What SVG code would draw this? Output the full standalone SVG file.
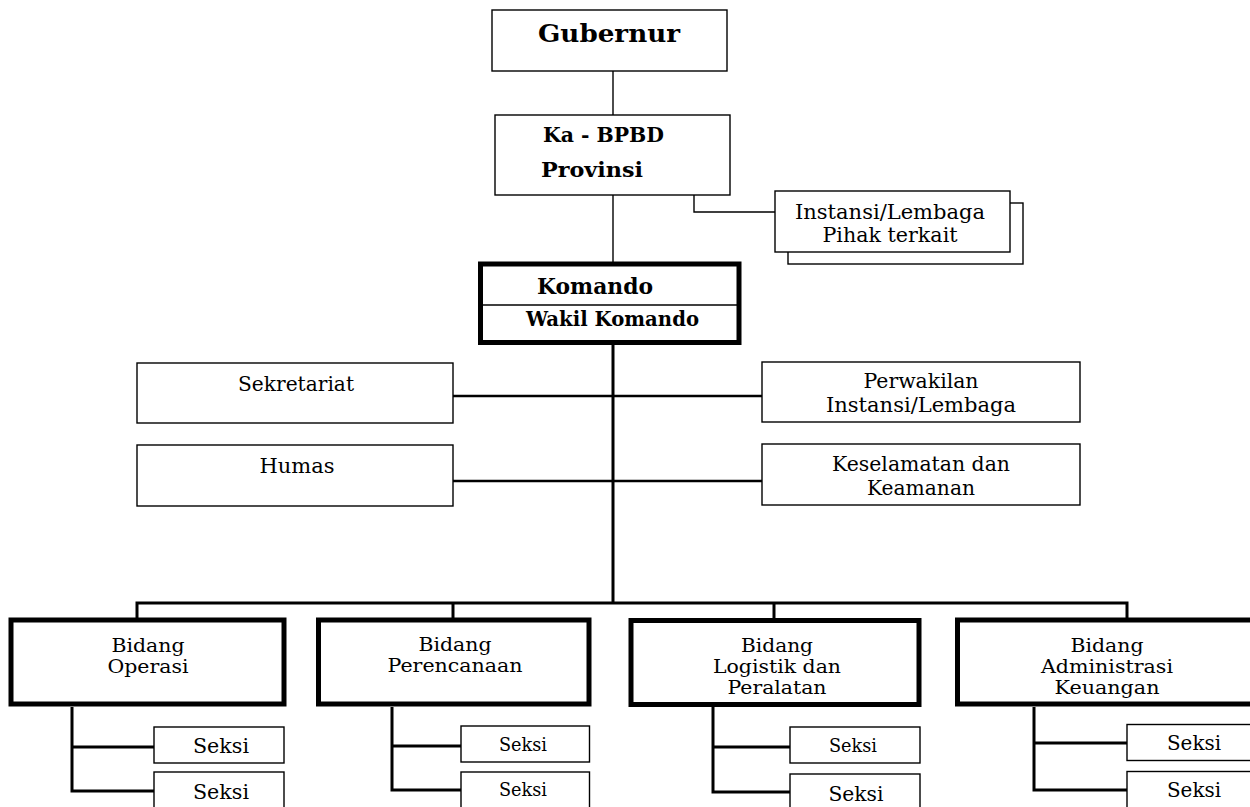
<svg xmlns="http://www.w3.org/2000/svg" width="1250" height="807" viewBox="0 0 1250 807">
<style>
  .box { fill: #ffffff; stroke: #000; stroke-width: 1.4; }
  .thick { fill: #ffffff; stroke: #000; stroke-width: 5; }
  .ln { fill: none; stroke: #000; stroke-width: 1.4; }
  .ln2 { fill: none; stroke: #000; stroke-width: 2.6; }
  .ln3 { fill: none; stroke: #000; stroke-width: 3; }
  text { font-family: "DejaVu Serif", "Liberation Serif", serif; fill: #000; }
  .t { font-size: 20px; text-anchor: middle; }
  .tb { font-size: 18px; text-anchor: middle; }
  .ts { font-size: 18px; text-anchor: middle; }
  .b { font-weight: bold; }
</style>
<rect width="1250" height="807" fill="#ffffff"/>

<g id="connectors">
  <path class="ln" d="M613,71 V115"/>
  <path class="ln" d="M613,195 V262"/>
  <path class="ln" d="M694,195 V212 H775"/>
  <path class="ln3" d="M613,345 V603"/>
  <path class="ln2" d="M453,396 H762"/>
  <path class="ln2" d="M453,481 H762"/>
  <path class="ln3" d="M137,618 V603 H1127 V618"/>
  <path class="ln3" d="M453,603 V618"/>
  <path class="ln3" d="M774,603 V618"/>
  <path class="ln3" d="M72,707 V791 H154 M72,747 H154"/>
  <path class="ln3" d="M392,707 V790 H461 M392,746 H461"/>
  <path class="ln3" d="M713,707 V792 H790 M713,747 H790"/>
  <path class="ln3" d="M1034,707 V790 H1127 M1034,743 H1127"/>
</g>

<g id="gubernur">
  <rect class="box" x="492" y="10" width="235" height="61"/>
  <text class="b" x="538" y="42" font-size="25" textLength="142" lengthAdjust="spacingAndGlyphs">Gubernur</text>
</g>

<g id="ka-bpbd">
  <rect class="box" x="495" y="115" width="235" height="80"/>
  <text class="b" x="543" y="142" font-size="21" textLength="121" lengthAdjust="spacingAndGlyphs">Ka - BPBD</text>
  <text class="b" x="541" y="177" font-size="21" textLength="102" lengthAdjust="spacingAndGlyphs">Provinsi</text>
</g>

<g id="instansi-lembaga">
  <rect class="box" x="788" y="203" width="235" height="61"/>
  <rect class="box" x="775" y="191" width="235" height="61"/>
  <text class="t" x="890" y="218.5" textLength="190" lengthAdjust="spacingAndGlyphs">Instansi/Lembaga</text>
  <text class="t" x="890" y="242" textLength="135" lengthAdjust="spacingAndGlyphs">Pihak terkait</text>
</g>

<g id="komando">
  <rect class="thick" x="480.5" y="264" width="258.5" height="78.5"/>
  <path class="ln" d="M483,305 H737"/>
  <text class="b" x="537" y="294" font-size="22" textLength="116" lengthAdjust="spacingAndGlyphs">Komando</text>
  <text class="b" x="526" y="326" font-size="19.5" textLength="173" lengthAdjust="spacingAndGlyphs">Wakil Komando</text>
</g>

<g id="sekretariat">
  <rect class="box" x="137" y="363" width="316" height="60"/>
  <text class="t" x="296" y="391" textLength="116" lengthAdjust="spacingAndGlyphs">Sekretariat</text>
</g>

<g id="humas">
  <rect class="box" x="137" y="445" width="316" height="61"/>
  <text class="t" x="297" y="473" textLength="75" lengthAdjust="spacingAndGlyphs">Humas</text>
</g>

<g id="perwakilan">
  <rect class="box" x="762" y="362" width="318" height="60"/>
  <text class="t" x="921" y="388" textLength="115" lengthAdjust="spacingAndGlyphs">Perwakilan</text>
  <text class="t" x="921" y="412" textLength="190" lengthAdjust="spacingAndGlyphs">Instansi/Lembaga</text>
</g>

<g id="keselamatan">
  <rect class="box" x="762" y="444" width="318" height="61"/>
  <text class="t" x="921" y="470.5" textLength="178" lengthAdjust="spacingAndGlyphs">Keselamatan dan</text>
  <text class="t" x="921" y="494.5" textLength="108" lengthAdjust="spacingAndGlyphs">Keamanan</text>
</g>

<g id="bidang-operasi">
  <rect class="thick" x="11" y="620" width="273" height="84"/>
  <text class="tb" x="148" y="652" textLength="73" lengthAdjust="spacingAndGlyphs">Bidang</text>
  <text class="tb" x="148" y="673" textLength="81" lengthAdjust="spacingAndGlyphs">Operasi</text>
</g>

<g id="bidang-perencanaan">
  <rect class="thick" x="318.5" y="620" width="270.5" height="84"/>
  <text class="tb" x="455" y="651" textLength="73" lengthAdjust="spacingAndGlyphs">Bidang</text>
  <text class="tb" x="455" y="672" textLength="135" lengthAdjust="spacingAndGlyphs">Perencanaan</text>
</g>

<g id="bidang-logistik">
  <rect class="thick" x="631" y="620.5" width="288" height="84"/>
  <text class="tb" x="777" y="652" textLength="72" lengthAdjust="spacingAndGlyphs">Bidang</text>
  <text class="tb" x="777" y="673" textLength="128" lengthAdjust="spacingAndGlyphs">Logistik dan</text>
  <text class="tb" x="777" y="694" textLength="99" lengthAdjust="spacingAndGlyphs">Peralatan</text>
</g>

<g id="bidang-administrasi">
  <rect class="thick" x="957.5" y="620" width="310" height="84"/>
  <text class="tb" x="1107" y="652" textLength="73" lengthAdjust="spacingAndGlyphs">Bidang</text>
  <text class="tb" x="1107" y="673" textLength="132" lengthAdjust="spacingAndGlyphs">Administrasi</text>
  <text class="tb" x="1107" y="694" textLength="105" lengthAdjust="spacingAndGlyphs">Keuangan</text>
</g>

<g id="seksi-operasi-1">
  <rect class="box" x="154" y="727" width="130" height="36"/>
  <text class="t" x="221" y="753" textLength="56" lengthAdjust="spacingAndGlyphs">Seksi</text>
</g>
<g id="seksi-operasi-2">
  <rect class="box" x="154" y="772" width="130" height="40"/>
  <text class="t" x="221" y="799" textLength="56" lengthAdjust="spacingAndGlyphs">Seksi</text>
</g>

<g id="seksi-perencanaan-1">
  <rect class="box" x="461" y="726" width="128.5" height="36"/>
  <text class="ts" x="523" y="751" textLength="48" lengthAdjust="spacingAndGlyphs">Seksi</text>
</g>
<g id="seksi-perencanaan-2">
  <rect class="box" x="461" y="772" width="128.5" height="40"/>
  <text class="ts" x="523" y="796" textLength="48" lengthAdjust="spacingAndGlyphs">Seksi</text>
</g>

<g id="seksi-logistik-1">
  <rect class="box" x="790" y="727" width="130" height="36"/>
  <text class="ts" x="853" y="752" textLength="48" lengthAdjust="spacingAndGlyphs">Seksi</text>
</g>
<g id="seksi-logistik-2">
  <rect class="box" x="790" y="774" width="130" height="40"/>
  <text class="t" x="856" y="801" font-size="21" textLength="55" lengthAdjust="spacingAndGlyphs">Seksi</text>
</g>

<g id="seksi-administrasi-1">
  <rect class="box" x="1127" y="724.5" width="130" height="36"/>
  <text class="t" x="1194" y="750" textLength="54" lengthAdjust="spacingAndGlyphs">Seksi</text>
</g>
<g id="seksi-administrasi-2">
  <rect class="box" x="1127" y="771.5" width="130" height="40"/>
  <text class="t" x="1194" y="797" textLength="54" lengthAdjust="spacingAndGlyphs">Seksi</text>
</g>
</svg>
